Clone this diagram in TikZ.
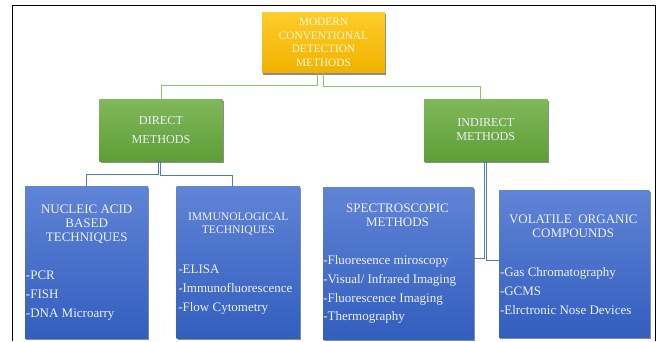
\documentclass[tikz,border=0pt]{standalone}
\usepackage{fontspec}
\setmainfont{Liberation Serif}
\usetikzlibrary{shadows}
\definecolor{bluetop}{RGB}{96,132,214}
\definecolor{bluebot}{RGB}{50,94,190}
\definecolor{greentop}{RGB}{128,184,90}
\definecolor{greenbot}{RGB}{94,158,54}
\definecolor{goldtop}{RGB}{255,204,40}
\definecolor{goldbot}{RGB}{240,178,0}
\definecolor{greenline}{RGB}{140,196,104}
\definecolor{blueline}{RGB}{80,120,205}
\definecolor{txt}{RGB}{238,241,250}
\definecolor{goldtxt}{RGB}{255,248,220}
\tikzset{
  box/.style={rectangle, anchor=north west, inner sep=0pt, outer sep=0pt,
    drop shadow={shadow xshift=1.2pt, shadow yshift=-1.8pt, opacity=0.45, fill=black}},
  bluebox/.style={box, top color=bluetop, bottom color=bluebot},
  greenbox/.style={box, top color=greentop, bottom color=greenbot},
  goldbox/.style={box, top color=goldtop, bottom color=goldbot},
  txtnode/.style={inner sep=0pt, outer sep=0pt, text=txt},
  head/.style={txtnode, align=center},
  itemlist/.style={txtnode, align=left, anchor=west},
  gline/.style={draw=greenline, line width=0.9pt},
  bline/.style={draw=blueline, line width=0.9pt},
  frameline/.style={draw=black, line width=1pt},
}
\begin{document}
\begin{tikzpicture}[x=1pt,y=-1pt]
\useasboundingbox (0,0) rectangle (657,341);
\fill[white] (0,0) rectangle (657,341);
\draw[frameline] (12,341) -- (12,5.7) -- (655.5,5.7) -- (655.5,341);

% boxes
\node[goldbox, minimum width=123pt, minimum height=60.4pt] (top) at (262,12.3) {};
\node[greenbox, minimum width=123.4pt, minimum height=61.7pt] (direct) at (99.3,99.3) {};
\node[greenbox, minimum width=123.7pt, minimum height=62pt] (indirect) at (424,99) {};
\node[bluebox, minimum width=123pt, minimum height=151.5pt] (nucleic) at (25,186.5) {};
\node[bluebox, minimum width=123.3pt, minimum height=151.5pt] (immuno) at (176.7,186.5) {};
\node[bluebox, minimum width=150.3pt, minimum height=152pt] (spectro) at (323,187) {};
\node[bluebox, minimum width=150.3pt, minimum height=147pt] (voc) at (499,190) {};

% connectors
\draw[gline] ([xshift=-5.8pt]top.south) -- ++(0,12.3) -| (direct.north);
\draw[gline] ([xshift=-0.2pt]top.south) -- ++(0,13.3) -| ([xshift=-5.2pt]indirect.north);
\draw[bline] ([xshift=-2.3pt]direct.south) -- ++(0,13) -| (nucleic.north);
\draw[bline] ([xshift=-0.3pt]direct.south) -- ++(0,14) -| ([xshift=-5.7pt]immuno.north);
\draw[bline] ([xshift=-1.5pt]indirect.south) |- ([yshift=4.7pt]spectro.east);
\draw[bline] ([xshift=0.9pt]indirect.south) |- ([yshift=2.8pt]voc.west);

% texts
\node[head, text=goldtxt, font=\fontsize{11.3}{13.5}\selectfont] (toptxt) at (323.5,42.3)
  {MODERN\\CONVENTIONAL\\DETECTION\\METHODS};
\node[head, font=\fontsize{12.2}{18.6}\selectfont] (directtxt) at (161,130) {DIRECT\\METHODS};
\node[head, font=\fontsize{12.2}{14}\selectfont] (indirecttxt) at (485.8,129.7) {INDIRECT\\METHODS};

\node[head, font=\fontsize{13}{13.85}\selectfont] (nuchead) at (86.7,224) {NUCLEIC ACID\\BASED\\TECHNIQUES};
\node[itemlist, font=\fontsize{13}{19}\selectfont] (nuclist) at (26,296) {-PCR\\-FISH\\-DNA Microarry};

\node[head, font=\fontsize{11.6}{13.7}\selectfont] (immhead) at (238.3,224.2) {IMMUNOLOGICAL\\TECHNIQUES};
\node[itemlist, font=\fontsize{13}{19}\selectfont] (immlist) at (178.3,289.3) {-ELISA\\-Immunofluorescence\\-Flow Cytometry};

\node[head, font=\fontsize{13}{14.7}\selectfont] (spehead) at (397.5,215.4) {SPECTROSCOPIC\\METHODS};
\node[itemlist, font=\fontsize{13}{18.6}\selectfont] (spelist) at (323.3,289.7)
  {-Fluoresence miroscopy\\-Visual/ Infrared Imaging\\-Fluorescence Imaging\\-Thermography};

\node[head, font=\fontsize{13}{14}\selectfont] (vochead) at (573.3,226.3) {VOLATILE\ \ ORGANIC\\COMPOUNDS};
\node[itemlist, font=\fontsize{13}{19}\selectfont] (voclist) at (500,291)
  {-Gas Chromatography\\-GCMS\\-Elrctronic Nose Devices};
\end{tikzpicture}
\end{document}
